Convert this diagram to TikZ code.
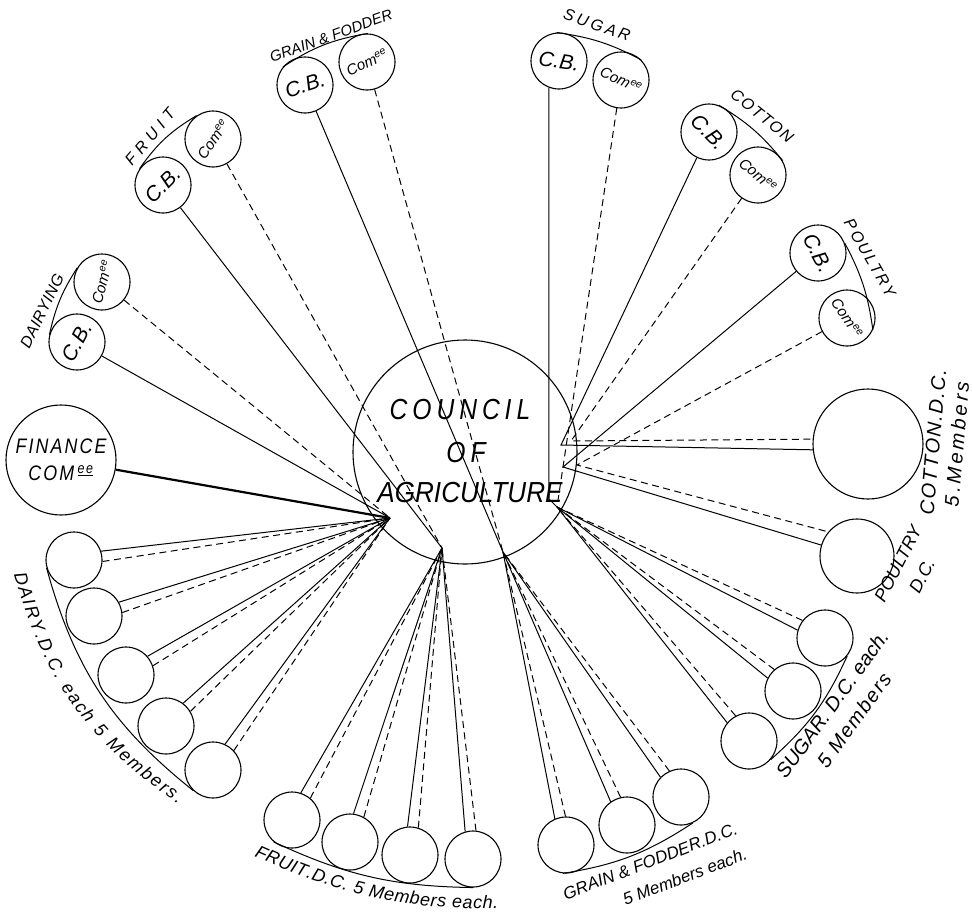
\documentclass[tikz,border=0pt]{standalone}
\usepackage{fontspec}
\newfontfamily\handf{Liberation Sans}
\newfontfamily\handco[FakeStretch=0.85,LetterSpace=17]{Liberation Sans}
\newfontfamily\handcn[FakeStretch=0.9]{Liberation Sans}
\newfontfamily\handfi[FakeStretch=0.85,LetterSpace=10]{Liberation Sans}
\usetikzlibrary{calc,decorations.text}
\newcommand\dcfont{\handf\itshape\fontsize{18}{27}\selectfont}
\newcommand\lsp[1]{\addfontfeature{LetterSpace=#1}}
\newcommand\dcpair[4]{%
  \draw[conn] let \p1=($(#2)-(#1)$), \n1={atan2(\y1,\x1)+#4} in (#1.\n1) -- (#2);
  \draw[dsh] let \p1=($(#3)-(#1)$), \n1={atan2(\y1,\x1)-#4} in (#1.\n1) -- (#3);
}
\begin{document}
\begin{tikzpicture}[x=1pt,y=-1pt,
  circ/.style={draw,circle,inner sep=0pt,minimum size=56pt,line width=1.1pt},
  conn/.style={line width=1pt},
  dsh/.style={line width=1pt,dash pattern=on 7pt off 4.5pt},
  brk/.style={line width=1pt},
  cbt/.style={font=\handf\itshape\fontsize{21}{26}\selectfont,inner sep=0pt},
  cmt/.style={font=\handf\itshape\fontsize{15}{20}\selectfont,inner sep=0pt},
  toplab/.style={font=\handf\itshape\fontsize{16}{18}\selectfont,inner sep=0pt},
  ctext/.style={font=\handco\itshape\fontsize{29}{34}\selectfont,inner sep=0pt},
  lab/.style={font=\dcfont,inner sep=0pt}
]
\fill[white] (0,0) rectangle (972,916);
\useasboundingbox (0,0) rectangle (972,916);

% hubs
\coordinate (H1) at (390,518);
\coordinate (H2) at (442,548);
\coordinate (H3) at (503,552);
\coordinate (H4) at (557,507);
\coordinate (H4v) at (549,499);
\coordinate (H5) at (561,445);
\coordinate (H5d) at (571,441);
\coordinate (H6) at (563,467);
\coordinate (H6d) at (577,465);

% council
\node[circ,minimum size=224pt] (council) at (465,452) {};
\node[ctext] (ct1) at (460,410) {COUNCIL};
\node[ctext] (ct2) at (466,453) {OF};
\node[ctext,font=\handcn\itshape\fontsize{29}{34}\selectfont] (ct3) at (470,493) {AGRICULTURE};

% top committees
\node[circ] (gcb) at (305,85) {};
\node[cbt,rotate=18] (gcbT) at (gcb) {C.B.};
\node[circ] (gcm) at (367,62) {};
\node[cmt,rotate=25] (gcmT) at (gcm) {Com\textsuperscript{ee}};
\node[toplab,font=\handf\itshape\fontsize{15}{18}\selectfont,rotate=20] (lgrain) at (331,36) {GRAIN \& FODDER};

\node[circ] (fcb) at (163,185) {};
\node[cbt,rotate=45] (fcbT) at (fcb) {C.B.};
\node[circ] (fcm) at (213,139) {};
\node[cmt,rotate=55] (fcmT) at (fcm) {Com\textsuperscript{ee}};
\node[toplab,rotate=50] (lfruit) at (150,137) {\lsp{33}FRUIT};

\node[circ] (dcb) at (77,342) {};
\node[cbt,rotate=62] (dcbT) at (dcb) {C.B.};
\node[circ] (dcm) at (102,282) {};
\node[cmt,rotate=75] (dcmT) at (dcm) {Com\textsuperscript{ee}};
\node[toplab,rotate=64] (ldairying) at (42,311) {\lsp{3}DAIRYING};

\node[circ] (scb) at (559,61) {};
\node[cbt,rotate=-8] (scbT) at (scb) {C.B.};
\node[circ] (scm) at (621,80) {};
\node[cmt,rotate=-25] (scmT) at (scm) {Com\textsuperscript{ee}};
\node[toplab,rotate=-19] (lsugar) at (597,25) {\lsp{20}SUGAR};

\node[circ] (ccb) at (709,132) {};
\node[cbt,rotate=-46] (ccbT) at (ccb) {C.B.};
\node[circ] (ccm) at (758,175) {};
\node[cmt,rotate=-40] (ccmT) at (ccm) {Com\textsuperscript{ee}};
\node[toplab,rotate=-39] (lcotton) at (762,116) {\lsp{10}COTTON};

\node[circ] (pcb) at (818,253) {};
\node[cbt,rotate=-62] (pcbT) at (pcb) {C.B.};
\node[circ] (pcm) at (847,318) {};
\node[cmt,rotate=-56] (pcmT) at (pcm) {Com\textsuperscript{ee}};
\node[toplab,rotate=-60] (lpoultry) at (870,258) {\lsp{14}POULTRY};

% brackets round top committees
\draw[brk] (gcb.141) to[bend left=12] (gcm.88);
\draw[brk] (fcb.145) to[bend left=12] (fcm.125);
\draw[brk] (dcb.165) to[bend left=10] (dcm.150);
\draw[brk] (scb.95) to[bend left=10] (scm.45);
\draw[brk] (ccb.70) to[bend left=10] (ccm.30);
\draw[brk] (pcb.20) to[bend left=10] (pcm.-25);

% connectors from top committees
\draw[conn] (gcb) -- (H3);
\draw[dsh] (gcm) -- (H3);
\draw[conn] (fcb) -- (H2);
\draw[dsh] (fcm) -- (H2);
\draw[conn] (dcb) -- (H1);
\draw[dsh] (dcm) -- (H1);
\draw[conn] (scb.249) -- (H4v) -- (H4);
\draw[dsh] (scm) -- (H4);

% finance
\node[circ,minimum size=110pt,align=center,font=\handfi\itshape\fontsize{21}{27}\selectfont] (fin) at (61,460) {FINANCE\\COM\,\textsuperscript{\underline{ee}}};
\draw[conn,line width=2.2pt] (fin) -- (H1);

% cotton DC and poultry DC
\node[circ,minimum size=110pt] (cdc) at (868,444) {};
\node[lab,font=\handf\itshape\fontsize{20}{24}\selectfont,rotate=85,align=center] (lcottonDC) at (945,443) {\lsp{8}COTTON.D.C.\\\lsp{16}5.Members};
\node[circ,minimum size=74pt] (pdc) at (857,556) {};
\node[lab,rotate=63,align=center] (lpoultryDC) at (910,570) {POULTRY\\D.C.};
\draw[conn] (ccb) -- (H5) -- (cdc.186);
\draw[dsh] (ccm) -- (H5d) -- (cdc.175);
\draw[conn] (pcb) -- (H6) -- (pdc.163);
\draw[dsh] (pcm) -- (H6d) -- (pdc.140);

% dairy DC
\node[circ] (d1) at (74,560) {};
\node[circ] (d2) at (94,616) {};
\node[circ] (d3) at (126,675) {};
\node[circ] (d4) at (166,726) {};
\node[circ] (d5) at (213,770) {};
\foreach \dd in {d1,d2,d3,d4,d5} {\dcpair{\dd}{H1}{H1}{11}}
\draw[brk] (d1.196) to[bend right=18] (d5.226);
\coordinate (dla) at (14,574);
\coordinate (dlb) at (178,804);
\path[decorate,decoration={text along path,text align=fit to path,
  text={|\dcfont|DAIRY.D.C. each 5 Members.}}] (dla) to[bend right=20] (dlb);

% fruit DC
\node[circ] (f1) at (292,820) {};
\node[circ] (f2) at (350,842) {};
\node[circ] (f3) at (410,855) {};
\node[circ] (f4) at (473,859) {};
\foreach \dd in {f1,f2,f3,f4} {\dcpair{\dd}{H2}{H2}{11}}
\draw[brk] (f1.230) to[bend right=12] (f4.270);
\coordinate (fla) at (254,856);
\coordinate (flb) at (498,909);
\path[decorate,decoration={text along path,text align=fit to path,
  text={|\dcfont|FRUIT.D.C. 5 Members each.}}] (fla) to[bend right=12] (flb);

% grain DC
\node[circ] (g1) at (566,845) {};
\node[circ] (g2) at (627,825) {};
\node[circ] (g3) at (681,797) {};
\foreach \dd in {g1,g2,g3} {\dcpair{\dd}{H3}{H3}{11}}
\draw[brk] (g1.264) to[bend right=12] (g3.294);
\node[lab,font=\handf\itshape\fontsize{17}{27}\selectfont,rotate=21,align=right] (lgrainDC) at (655,874) {GRAIN \& FODDER.D.C.\\5 Members each.};

% sugar DC
\node[circ] (s1) at (825,638) {};
\node[circ] (s2) at (793,691) {};
\node[circ] (s3) at (749,741) {};
\foreach \dd in {s1,s2,s3} {\dcpair{\dd}{H4}{H4}{11}}
\draw[brk] (s3.319) to[bend right=12] (s1.321);
\node[lab,font=\handf\itshape\fontsize{20}{27}\selectfont,rotate=54,align=center] (lsugarDC) at (843,712) {SUGAR. D.C. each.\\\lsp{8}5 Members};
\end{tikzpicture}
\end{document}
